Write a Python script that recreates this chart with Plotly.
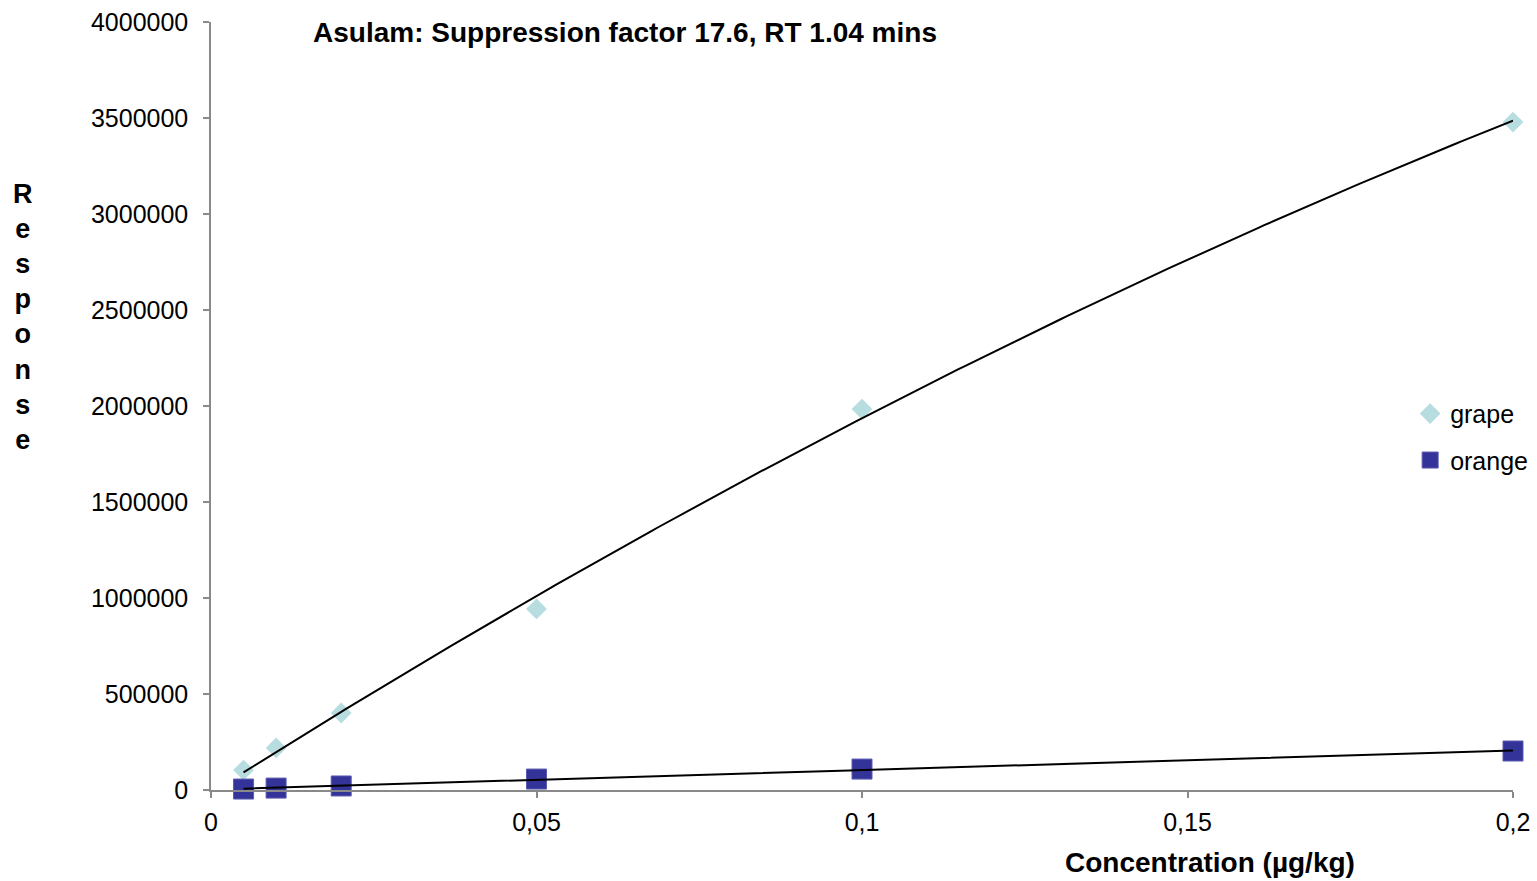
import numpy as np
import plotly.graph_objects as go

# Calibration data: concentration (µg/kg) vs detector response
concentration = [0.005, 0.01, 0.02, 0.05, 0.1, 0.2]
grape_response = [104000, 219000, 401000, 943000, 1984000, 3479000]
orange_response = [5000, 10000, 21000, 57000, 109000, 203000]

x_ticks = [0, 0.05, 0.1, 0.15, 0.2]
y_ticks = [0, 500000, 1000000, 1500000, 2000000, 2500000, 3000000, 3500000, 4000000]

title_text = "Asulam: Suppression factor 17.6, RT 1.04 mins"
x_title = "Concentration (µg/kg)"
y_title = "Response"

FONT = "Liberation Sans, Arial, sans-serif"
AXIS_GREY = "#898989"
GRAPE_COLOR = "#B7DDE0"
ORANGE_COLOR = "#333399"

# Trend lines: polynomial (order 2) for grape, linear for orange
xs = np.array(concentration)
grape_fit = np.poly1d(np.polyfit(xs, grape_response, 2))
orange_fit = np.poly1d(np.polyfit(xs, orange_response, 1))
x_line = np.linspace(min(concentration), max(concentration), 200)

fig = go.Figure()

fig.add_trace(go.Scatter(
    x=concentration, y=grape_response, mode="markers", name="grape",
    marker=dict(symbol="diamond", size=16, color=GRAPE_COLOR),
    legendgroup="g", cliponaxis=False,
))
fig.add_trace(go.Scatter(
    x=concentration, y=orange_response, mode="markers", name="orange",
    marker=dict(symbol="square", size=20, color=ORANGE_COLOR,
                line=dict(color="#5a5ab0", width=1)),
    legendgroup="o", cliponaxis=False,
))

# Fitted lines drawn on top of the markers
fig.add_trace(go.Scatter(
    x=x_line, y=grape_fit(x_line), mode="lines",
    line=dict(color="black", width=2), showlegend=False, hoverinfo="skip",
    cliponaxis=False,
))
fig.add_trace(go.Scatter(
    x=x_line, y=orange_fit(x_line), mode="lines",
    line=dict(color="black", width=2), showlegend=False, hoverinfo="skip",
    cliponaxis=False,
))

fig.update_layout(
    width=1537, height=881,
    margin=dict(l=211, r=24, t=22, b=91, autoexpand=False),
    paper_bgcolor="white", plot_bgcolor="white",
    font=dict(family=FONT, size=25, color="black"),
    separators=",.",
    showlegend=True,
    legend=dict(
        x=0.921, y=(790 - 410) / 768 + 0.025, xanchor="left", yanchor="top",
        font=dict(family=FONT, size=25, color="black"),
        bgcolor="rgba(0,0,0,0)", borderwidth=0,
        tracegroupgap=11, itemwidth=30,
    ),
    xaxis=dict(
        range=[0, 0.2], tickvals=x_ticks, tickformat="~g",
        showgrid=False, zeroline=False,
        showline=True, linecolor=AXIS_GREY, linewidth=1.5,
        ticks="outside", ticklen=6, tickcolor=AXIS_GREY, tickwidth=1.5,
        tickfont=dict(family=FONT, size=25, color="black"),
        ticklabelstandoff=3,
    ),
    yaxis=dict(
        range=[0, 4000000], tickvals=y_ticks, tickformat="d",
        showgrid=False, zeroline=False,
        showline=True, linecolor=AXIS_GREY, linewidth=1.5,
        ticks="outside", ticklen=6, tickcolor=AXIS_GREY, tickwidth=1.5,
        tickfont=dict(family=FONT, size=25, color="black"),
        ticklabelstandoff=10,
    ),
    annotations=[
        dict(text="<b>" + title_text + "</b>", xref="paper", yref="paper",
             x=(311 - 211) / 1302, y=(790 - 32) / 768, xanchor="left", yanchor="middle",
             showarrow=False, font=dict(family=FONT, size=28, color="black")),
        dict(text="<b>" + x_title + "</b>", xref="paper", yref="paper",
             x=(1210 - 211) / 1302, y=(790 - 862) / 768, xanchor="center", yanchor="middle",
             showarrow=False, font=dict(family=FONT, size=28, color="black")),
        dict(text="<b>" + "<br>".join(y_title) + "</b>", xref="paper", yref="paper",
             x=(23 - 211) / 1302, y=(790 - 317) / 768, xanchor="center", yanchor="middle",
             showarrow=False, font=dict(family=FONT, size=27, color="black")),
    ],
)

fig.write_html("out.html")
